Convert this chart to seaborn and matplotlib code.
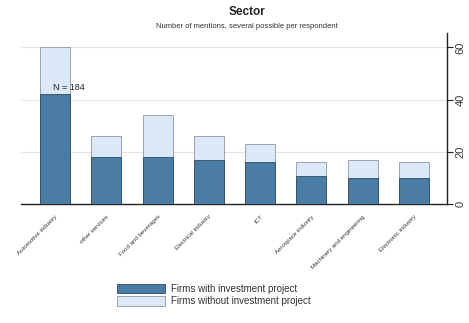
import matplotlib
matplotlib.use("Agg")
import matplotlib.pyplot as plt
from matplotlib.patches import Patch
import pandas as pd
import seaborn as sns

sectors = ["Automotive industry", "other services", "Food and beverages",
           "Electrical industry", "ICT", "Aerospace industry",
           "Machinery and engineering", "Electronic industry"]
with_project = [42, 18, 18, 17, 16, 11, 10, 10]
total_mentions = [60, 26, 34, 26, 23, 16, 17, 16]
n_respondents = 184

dark = "#4a7ca4"
light = "#dbe9f6"

df = pd.DataFrame({"sector": sectors, "with": with_project, "total": total_mentions})

sns.set_theme(style="white")
plt.rcParams["font.family"] = ["Liberation Sans", "DejaVu Sans"]

fig = plt.figure(figsize=(4.69, 3.23), dpi=100)
ax = fig.add_axes([21 / 469, 1 - 204.3 / 323, (447 - 21) / 469, (204.3 - 33) / 323])

for y in [20, 40, 60]:
    ax.axhline(y, color="#e4e4e4", lw=0.8, zorder=0)

sns.barplot(data=df, x="sector", y="total", order=sectors, color=light,
            saturation=1, width=0.585, edgecolor="#8c98a3", linewidth=0.6, ax=ax, zorder=2)
sns.barplot(data=df, x="sector", y="with", order=sectors, color=dark,
            saturation=1, width=0.585, edgecolor="#2e4a60", linewidth=0.6, ax=ax, zorder=3)

ax.set_xlim(-0.663, 7.643)
ax.set_ylim(0, 65.5)
ax.set_xlabel("")
ax.set_ylabel("")

ax.yaxis.tick_right()
ax.set_yticks([0, 20, 40, 60])
ax.set_yticklabels(["0", "20", "40", "60"], rotation=90, va="center", fontsize=8, color="#333333")
ax.tick_params(axis="y", direction="out", length=4, width=0.8, color="#222222", pad=2, right=True)
ax.tick_params(axis="x", length=0, pad=7)
ax.set_xticks(range(len(sectors)))
ax.set_xticklabels(sectors, rotation=45, ha="right", rotation_mode="anchor", fontsize=4.4, color="#333333")

for side in ["left", "top"]:
    ax.spines[side].set_visible(False)
for side in ["right", "bottom"]:
    ax.spines[side].set_visible(True)
    ax.spines[side].set_color("#222222")
    ax.spines[side].set_linewidth(1.0)

ax.text(-0.04, 44.8, f"N = {n_respondents}", fontsize=6.5, color="#222222",
        ha="left", va="center", zorder=5)

fig.text(247 / 469, 1 - 12 / 323, "Sector", ha="center", va="center",
         fontsize=8.5, fontweight="bold", color="#222222")
fig.text(247 / 469, 1 - 27 / 323, "Number of mentions, several possible per respondent",
         ha="center", va="center", fontsize=5.5, color="#333333")

handles = [Patch(facecolor=dark, edgecolor="#2e4a60", linewidth=0.6),
           Patch(facecolor=light, edgecolor="#8c98a3", linewidth=0.6)]
fig.legend(handles, ["Firms with investment project", "Firms without investment project"],
           loc="upper left", bbox_to_anchor=(117 / 469, 1 - 284 / 323), frameon=False,
           fontsize=7, handlelength=4.9, handleheight=1.1, handletextpad=0.7,
           labelspacing=0.25, borderpad=0, borderaxespad=0, labelcolor="#333333")

fig.savefig("out.png", dpi=100)
